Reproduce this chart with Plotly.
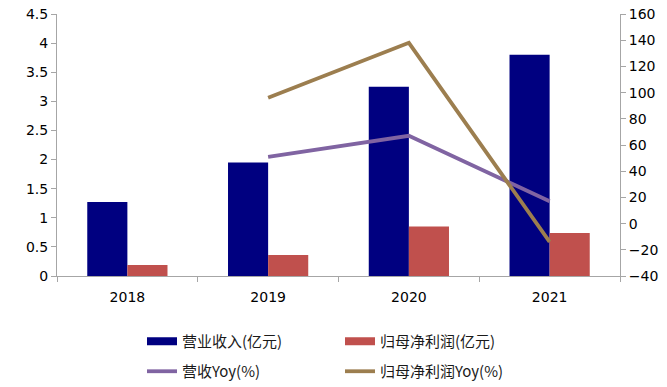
import plotly.graph_objects as go

years = ["2018", "2019", "2020", "2021"]
revenue = [1.27, 1.95, 3.25, 3.80]          # 营业收入(亿元)
net_profit = [0.19, 0.36, 0.85, 0.74]       # 归母净利润(亿元)
rev_yoy_years = ["2019", "2020", "2021"]
rev_yoy = [51, 67, 17]                      # 营收Yoy(%)
np_yoy = [96, 138, -14]                     # 归母净利润Yoy(%)

left_ticks = [0, 0.5, 1, 1.5, 2, 2.5, 3, 3.5, 4, 4.5]
left_labels = ["0", "0.5", "1", "1.5", "2", "2.5", "3", "3.5", "4", "4.5"]
right_ticks = [-40, -20, 0, 20, 40, 60, 80, 100, 120, 140, 160]

font_num = "DejaVu Sans, sans-serif"
font_cjk = "Noto Sans CJK SC, sans-serif"
axis_col = "#A6A6A6"
c_rev, c_np, c_ryoy, c_nyoy = "#000080", "#C0504D", "#8064A2", "#9C7E4F"

fig = go.Figure()
fig.add_trace(go.Bar(x=years, y=revenue, name="营业收入(亿元)", marker_color=c_rev,
                     marker_line_width=0, showlegend=False))
fig.add_trace(go.Bar(x=years, y=net_profit, name="归母净利润(亿元)", marker_color=c_np,
                     marker_line_width=0, showlegend=False))
fig.add_trace(go.Scatter(x=rev_yoy_years, y=rev_yoy, name="营收Yoy(%)", mode="lines",
                         line=dict(color=c_ryoy, width=3.8), yaxis="y2", legend="legend2"))
fig.add_trace(go.Scatter(x=rev_yoy_years, y=np_yoy, name="归母净利润Yoy(%)", mode="lines",
                         line=dict(color=c_nyoy, width=3.8), yaxis="y2", legend="legend2"))
# legend entries for the bars (wide rectangular swatches as in the reference)
fig.add_trace(go.Scatter(x=[None], y=[None], name="营业收入(亿元)", mode="lines",
                         line=dict(color=c_rev, width=8), legend="legend"))
fig.add_trace(go.Scatter(x=[None], y=[None], name="归母净利润(亿元)", mode="lines",
                         line=dict(color=c_np, width=8), legend="legend"))

fig.update_layout(
    width=667, height=387,
    margin=dict(l=57, r=47, t=14, b=111, autoexpand=False),
    paper_bgcolor="white", plot_bgcolor="white",
    barmode="group", bargap=0.43, bargroupgap=0,
    font=dict(family=font_num, size=14, color="#000000"),
    xaxis=dict(type="category", showline=True, linecolor=axis_col, linewidth=1,
               ticks="outside", tickson="boundaries", ticklen=5, tickcolor=axis_col,
               showgrid=False, ticklabelstandoff=8, automargin=False,
               tickfont=dict(size=14, family=font_num)),
    yaxis=dict(range=[0, 4.5], tickvals=left_ticks, ticktext=left_labels,
               showline=True, linecolor=axis_col, ticks="outside", ticklen=5,
               tickcolor=axis_col, showgrid=False, zeroline=False, automargin=False,
               tickfont=dict(size=14, family=font_num)),
    yaxis2=dict(range=[-40, 160], tickvals=right_ticks, overlaying="y", side="right",
                showline=True, linecolor=axis_col, ticks="outside", ticklen=5,
                tickcolor=axis_col, showgrid=False, zeroline=False, automargin=False,
                tickfont=dict(size=14, family=font_num)),
    legend=dict(orientation="h", xref="container", yref="container",
                x=142 / 667, y=1 - 325 / 387, xanchor="left", yanchor="top",
                entrywidth=153, font=dict(family=font_cjk, size=15, color="#1a1a1a"),
                traceorder="normal", bgcolor="rgba(0,0,0,0)"),
    legend2=dict(orientation="h", xref="container", yref="container",
                 x=142 / 667, y=1 - 355 / 387, xanchor="left", yanchor="top",
                 entrywidth=153, font=dict(family=font_cjk, size=15, color="#1a1a1a"),
                 traceorder="normal", bgcolor="rgba(0,0,0,0)"),
)

fig.write_html("out.html")
